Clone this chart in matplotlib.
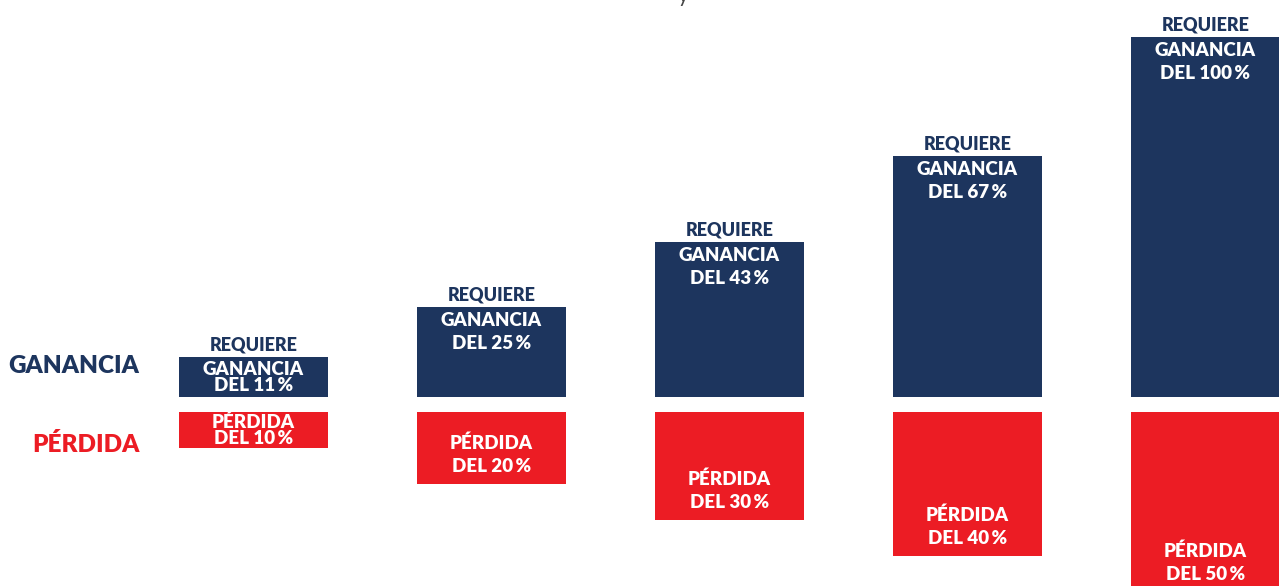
import matplotlib.pyplot as plt

# datos
perdidas = [10, 20, 30, 40, 50]
ganancias = [11, 25, 43, 67, 100]
etq_ganancia = ["GANANCIA\nDEL 11\u2009%", "GANANCIA\nDEL 25\u2009%", "GANANCIA\nDEL 43\u2009%",
                "GANANCIA\nDEL 67\u2009%", "GANANCIA\nDEL 100\u2009%"]
etq_perdida = ["PÉRDIDA\nDEL 10\u2009%", "PÉRDIDA\nDEL 20\u2009%", "PÉRDIDA\nDEL 30\u2009%",
               "PÉRDIDA\nDEL 40\u2009%", "PÉRDIDA\nDEL 50\u2009%"]

AZUL = '#1d355e'
ROJO = '#ec1c24'
FUENTE = ['Lato', 'DejaVu Sans']
PESO = 'heavy'

W, H = 1279, 586
PX = 3.6          # pixeles por punto porcentual
BASE = 397        # linea base de las ganancias (px desde arriba)
HUECO = 15 / PX   # separacion entre barras azules y rojas

fig = plt.figure(figsize=(W / 100, H / 100), dpi=100)
ax = fig.add_axes([0, 0, 1, 1])
ax.set_xlim(-253.5 / 238, (W - 253.5) / 238)
ax.set_ylim(-(H - BASE) / PX, BASE / PX)
ax.axis('off')

x = list(range(len(ganancias)))
ancho = 149 / 238
ax.bar(x, ganancias, width=ancho, bottom=0, color=AZUL)
ax.bar(x, [-p for p in perdidas], width=ancho, bottom=-HUECO, color=ROJO)

for i in x:
    g = ganancias[i]
    p = perdidas[i]
    ax.text(i, g + 12 / PX, "REQUIERE", ha='center', va='center', color=AZUL,
            fontsize=13, fontweight=PESO, family=FUENTE)
    if i == 0:
        ax.text(i, g / 2, etq_ganancia[i], ha='center', va='center', color='white',
                fontsize=13.5, fontweight=PESO, family=FUENTE, linespacing=0.95)
        ax.text(i, -HUECO - p / 2, etq_perdida[i], ha='center', va='center', color='white',
                fontsize=13.5, fontweight=PESO, family=FUENTE, linespacing=0.95)
    else:
        ax.text(i, g - 5 / PX, etq_ganancia[i], ha='center', va='top', color='white',
                fontsize=13.5, fontweight=PESO, family=FUENTE, linespacing=1.45)
        ax.text(i, -HUECO - p + 9 / PX, etq_perdida[i], ha='center', va='bottom', color='white',
                fontsize=13.5, fontweight=PESO, family=FUENTE, linespacing=1.45)

ax.text(-0.48, 31 / PX, "GANANCIA", ha='right', va='center', color=AZUL,
        fontsize=17.5, fontweight=PESO, family=FUENTE)
ax.text(-0.48, -47 / PX, "PÉRDIDA", ha='right', va='center', color=ROJO,
        fontsize=17.5, fontweight=PESO, family=FUENTE)

# resto del titulo cortado arriba
fig.text(683 / W, 1 - 2 / H, "y", ha='center', va='baseline', color='#444444',
         fontsize=15, family=FUENTE)

fig.savefig('out.png', dpi=100)
